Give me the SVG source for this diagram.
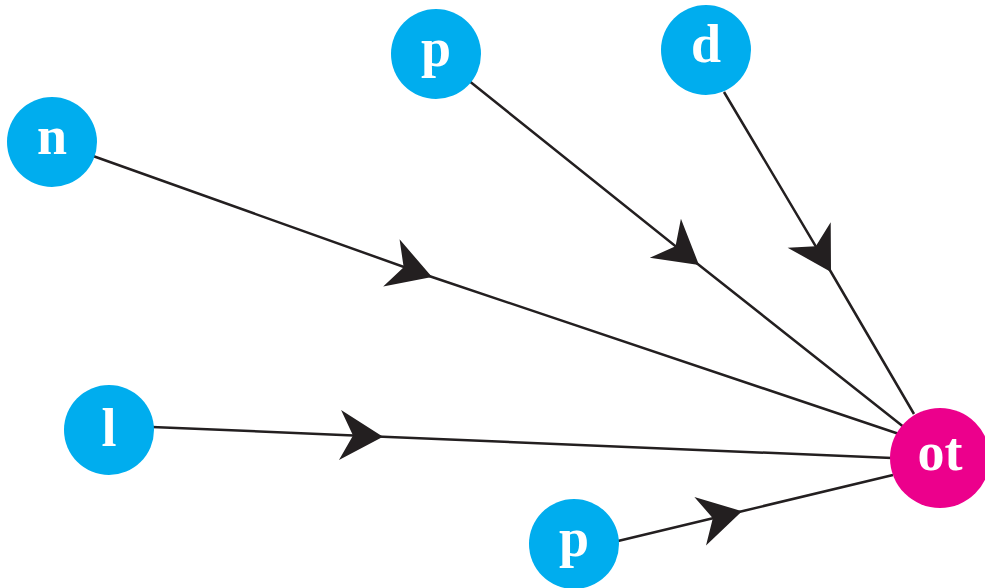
<svg xmlns="http://www.w3.org/2000/svg" width="985" height="588" viewBox="0 0 985 588">
<style>
.e{fill:none;stroke:#231F20;stroke-width:2.5;marker-mid:url(#ah)}
.n circle{fill:#00ADEE}
.n.m circle{fill:#EC008C}
.n text{font-family:"Liberation Serif",serif;font-weight:bold;font-size:54px;fill:#fff;text-anchor:middle}
</style>
<defs>
<marker id="ah" markerUnits="userSpaceOnUse" orient="auto" markerWidth="60" markerHeight="60" refX="0" refY="0" viewBox="-50 -30 60 60" overflow="visible">
<path d="M0,0 L-43,-25 L-30,0 L-43,25 Z" fill="#231F20"/>
</marker>
</defs>
<g id="edges">
<polyline class="e" points="93,156 432,277 905,436"/>
<polyline class="e" points="468,80 699,265 905,428"/>
<polyline class="e" points="724,92 831,272 914,414"/>
<polyline class="e" points="152,427 383,436.7 892,458"/>
<polyline class="e" points="618,541 742,511.2 893,475"/>
</g>
<g id="n1" class="n"><circle cx="52" cy="142" r="45"/><text x="52" y="154">n</text></g>
<g id="n2" class="n"><circle cx="436" cy="54" r="45"/><text x="436" y="66">p</text></g>
<g id="n3" class="n"><circle cx="706" cy="50" r="45"/><text x="706" y="62">d</text></g>
<g id="n4" class="n"><circle cx="109" cy="430" r="45"/><text x="109" y="446">l</text></g>
<g id="n5" class="n"><circle cx="574" cy="544" r="45"/><text x="574" y="556">p</text></g>
<g id="n6" class="n m"><circle cx="940" cy="458" r="50"/><text x="940" y="470">ot</text></g>
</svg>
